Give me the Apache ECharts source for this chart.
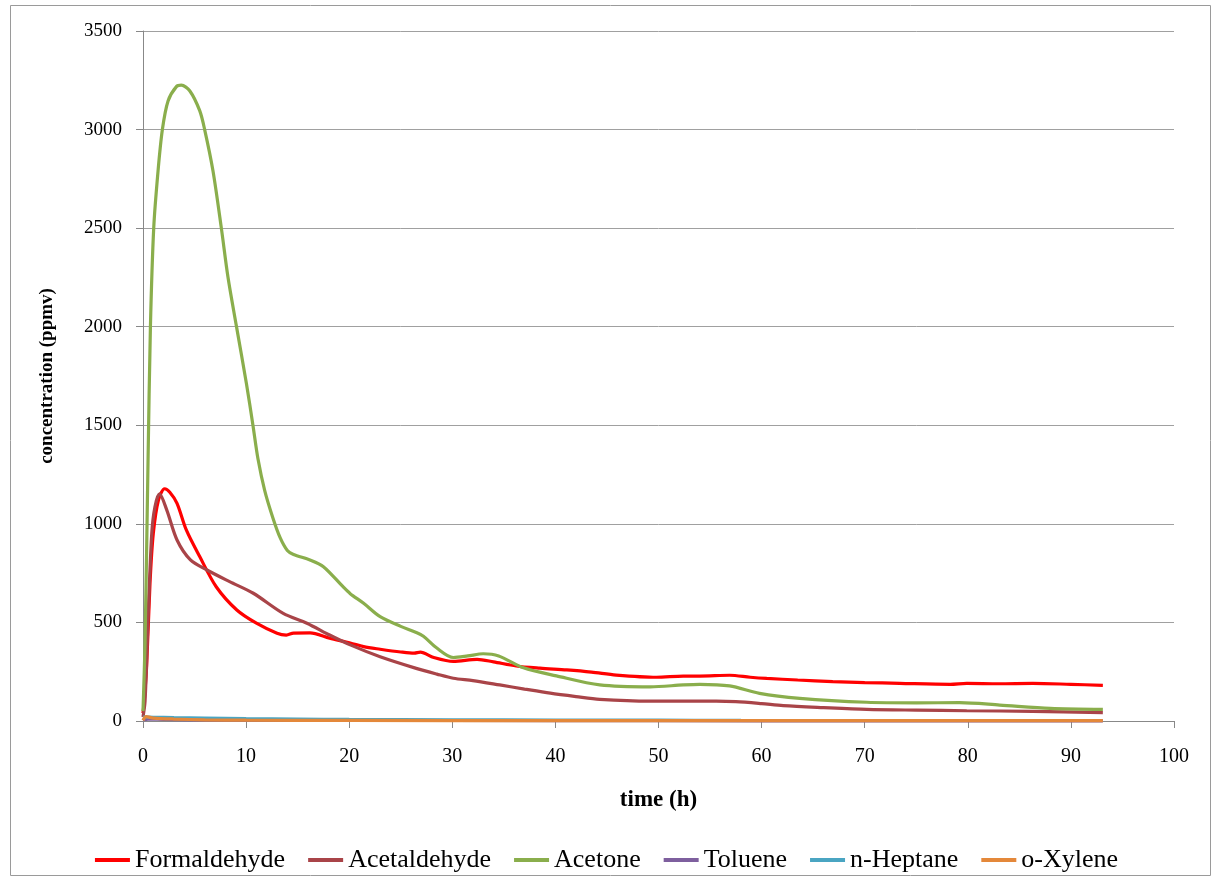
<!DOCTYPE html>
<html>
<head>
<meta charset="utf-8">
<title>concentration vs time</title>
<script src="https://cdn.jsdelivr.net/npm/echarts@6/dist/echarts.min.js"></script>
<style>
  html, body { margin: 0; padding: 0; background: #fff; }
  #chart { width: 1213px; height: 877px; }
</style>
</head>
<body>
<div id="chart"></div>
<script>
// series names (legend order)
var names = ['Formaldehyde', 'Acetaldehyde', 'Acetone', 'Toluene', 'n-Heptane', 'o-Xylene'];
var colors = ['#FF0000', '#A94448', '#8AAE4C', '#7E5F9E', '#4AA5C2', '#E4883A'];

// [time (h), concentration (ppmv)]
var formaldehyde = [[0,40],[0.1,90],[0.35,275],[0.68,700],[1.0,952],[1.5,1121],[2.1,1178],[2.6,1160],[3.3,1104],
  [4.2,969],[5.5,834],[7.1,681],[9.1,563],[11.0,496],[13.0,445],[13.9,436],[14.6,446],[16.2,447],[18.1,420],
  [20.1,396],[21.4,377],[23,364],[25,350],[26.3,344],[26.9,349],[28.2,322],[30.1,302],[32.4,313],[34,300],
  [36.2,279],[38.5,268],[41.1,259],[43.5,248],[45.9,233],[49.8,222],[52.4,228],[54,228],[56.9,232],[58.9,222],
  [60.5,216],[63.5,208],[66.9,200],[70,195],[73.4,191],[78.3,186],[79.9,191],[83,189],[86.3,191],[90,186],[93.1,181]];

var acetaldehyde = [[0,20],[0.2,100],[0.5,530],[0.85,952],[1.16,1087],[1.6,1152],[2.3,1071],[3.3,918],[4.6,817],
  [6.2,766],[8.4,707],[10.7,648],[13.6,546],[15.9,496],[18.1,436],[20.1,386],[23,326],[26.5,267],[28.5,238],
  [30.1,217],[32,205],[34.6,183],[37,162],[39.5,141],[42,124],[44.3,110],[49.2,101],[55.6,101],[57.5,98],
  [60,88],[62.1,78],[66,68],[70.2,59],[75,55],[79.9,52],[86.3,49],[93.1,42]];

var acetone = [[0,50],[0.2,400],[0.49,1324],[0.72,2000],[1.04,2500],[1.46,2790],[1.88,3000],[2.43,3145],[3.24,3218],
  [3.72,3225],[4.53,3197],[5.5,3096],[5.98,3000],[6.79,2790],[7.6,2500],[8.24,2252],[9.06,2003],[10.03,1712],
  [10.67,1498],[11.15,1330],[11.8,1170],[12.6,1030],[13.3,930],[14.0,865],[14.6,845],[16.2,817],[17.5,783],
  [19.4,681],[20.1,646],[21.4,597],[23,529],[25,480],[26.5,449],[27.2,430],[28.5,370],[30.1,322],[31.5,330],
  [33,341],[34.5,330],[36.9,270],[40.1,229],[44.3,183],[49.2,173],[52.4,183],[54,186],[56.9,178],[59.8,140],
  [63.7,115],[70.2,95],[75,92],[79.2,93],[83.1,81],[88,64],[93.1,59]];

var toluene = [[0,5],[0.5,10],[2,8],[5,6],[10,4],[20,3],[40,2],[60,1],[93.1,1]];
var heptane = [[0,20],[1,19],[3,17],[6,15],[10,12],[15,10],[20,8],[30,6],[40,5],[50,4],[58,3]];
var xylene = [[0,3],[0.3,22],[1,15],[3,10],[6,6],[10,4],[20,3],[40,2],[93.1,2]];

var xTicks = { min: 0, max: 100, interval: 10 };
var yTicks = { min: 0, max: 3500, interval: 500 };

var allData = [formaldehyde, acetaldehyde, acetone, toluene, heptane, xylene];

var chart = echarts.init(document.getElementById('chart'));
var font = 'Liberation Serif';

var series = names.map(function (n, i) {
  return {
    name: n,
    type: 'line',
    data: allData[i],
    showSymbol: false,
    symbol: 'none',
    smooth: 0.3,
    clip: false,
    lineStyle: { width: 3.2, color: colors[i] },
    itemStyle: { color: colors[i] },
    z: 2 + i
  };
});

var option = {
  animation: false,
  backgroundColor: '#fff',
  color: colors,
  graphic: [{
    type: 'rect',
    shape: { x: 10.5, y: 5.5, width: 1200, height: 870 },
    style: { fill: 'none', stroke: '#9a9a9a', lineWidth: 1 },
    silent: true
  }],
  grid: { left: 143, right: 39, top: 31, bottom: 156 },
  legend: {
    data: names,
    top: 842,
    left: 'center',
    icon: 'rect',
    itemWidth: 35,
    itemHeight: 4,
    itemGap: 23,
    textStyle: { fontFamily: font, fontSize: 26, color: '#000' }
  },
  xAxis: {
    type: 'value',
    min: xTicks.min, max: xTicks.max, interval: xTicks.interval,
    name: 'time (h)',
    nameLocation: 'middle',
    nameGap: 68,
    nameTextStyle: { fontFamily: font, fontSize: 23, fontWeight: 'bold', color: '#000' },
    axisLine: { show: true, lineStyle: { color: '#888', width: 1 } },
    axisTick: { show: true, length: 7, lineStyle: { color: '#888' } },
    axisLabel: { margin: 26, fontFamily: font, fontSize: 20, color: '#000' },
    splitLine: { show: false }
  },
  yAxis: {
    type: 'value',
    min: yTicks.min, max: yTicks.max, interval: yTicks.interval,
    name: 'concentration (ppmv)',
    nameLocation: 'middle',
    nameGap: 86,
    nameTextStyle: { fontFamily: font, fontSize: 19, fontWeight: 'bold', color: '#000' },
    axisLine: { show: true, lineStyle: { color: '#888', width: 1 } },
    axisTick: { show: true, length: 7, lineStyle: { color: '#888' } },
    axisLabel: {
      margin: 21, fontFamily: font, fontSize: 19, color: '#000',
      formatter: function (v) { return String(v); }
    },
    splitLine: { show: true, lineStyle: { color: '#a0a0a0', width: 1 } }
  },
  series: series
};

chart.setOption(option);
</script>
</body>
</html>
